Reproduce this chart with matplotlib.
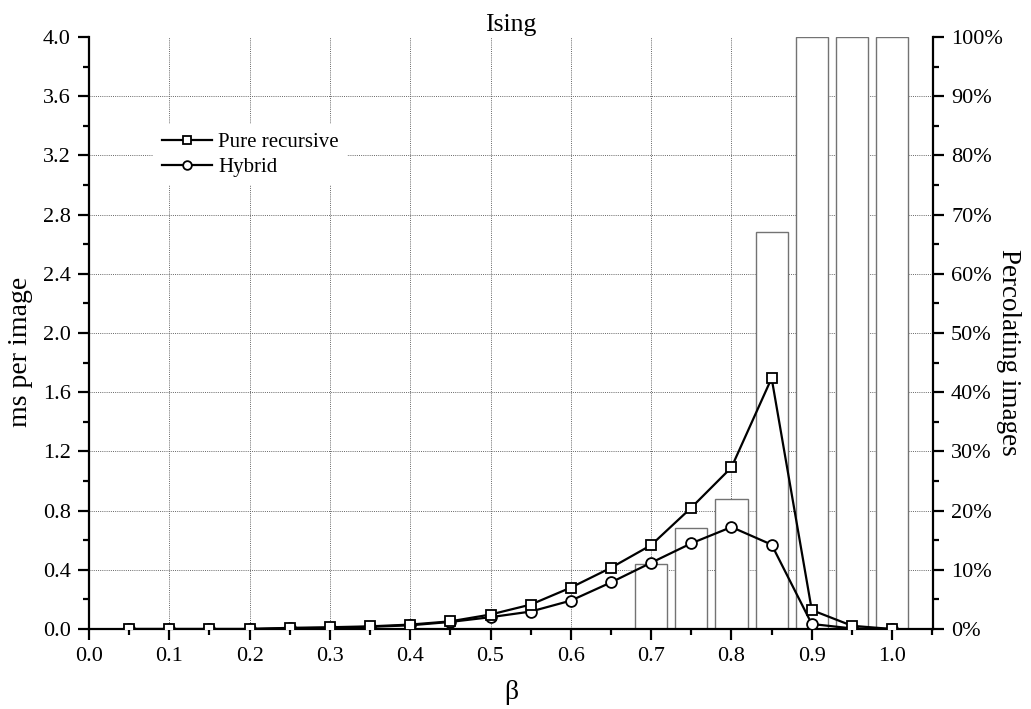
import matplotlib
matplotlib.use("Agg")
import matplotlib.pyplot as plt
from matplotlib.ticker import MultipleLocator, FuncFormatter

beta = [0.05, 0.10, 0.15, 0.20, 0.25, 0.30, 0.35, 0.40, 0.45, 0.50,
        0.55, 0.60, 0.65, 0.70, 0.75, 0.80, 0.85, 0.90, 0.95, 1.00]
pure_recursive = [0.0, 0.0, 0.0, 0.0, 0.008, 0.012, 0.018, 0.030, 0.052, 0.098,
                  0.165, 0.280, 0.414, 0.567, 0.820, 1.092, 1.695, 0.128, 0.022, 0.0]
hybrid = [0.0, 0.0, 0.0, 0.0, 0.005, 0.008, 0.015, 0.025, 0.048, 0.080,
          0.118, 0.192, 0.315, 0.448, 0.579, 0.689, 0.570, 0.034, 0.004, 0.0]

bar_beta = [0.70, 0.75, 0.80, 0.85, 0.90, 0.95, 1.00]
percolating = [11.0, 17.0, 22.0, 67.0, 100.0, 100.0, 100.0]

plt.rcParams['font.family'] = ['Liberation Serif', 'DejaVu Serif']

fig = plt.figure(figsize=(10.31, 7.09), dpi=100)
ax = fig.add_axes([0.0863, 0.1128, 0.8187, 0.835])
ax2 = ax.twinx()
ax.set_zorder(2)
ax2.set_zorder(1)
ax.patch.set_visible(False)
ax2.patch.set_visible(True)
ax2.patch.set_facecolor('white')

# bars on right axis
ax2.bar(bar_beta, percolating, width=0.04, color='white', edgecolor='0.45',
        linewidth=1.0, zorder=3)
ax2.set_ylim(0, 100)
ax2.yaxis.set_major_locator(MultipleLocator(10))
ax2.yaxis.set_minor_locator(MultipleLocator(5))
ax2.yaxis.set_major_formatter(FuncFormatter(lambda v, p: f"{int(round(v))}%"))
ax2.xaxis.set_visible(True)
ax2.grid(True, which='major', axis='both', linestyle=(0, (1, 1.2)), color='0.4',
         linewidth=0.7, zorder=0)
ax2.set_axisbelow(True)
ax2.tick_params(axis='x', which='both', bottom=False, top=False,
                labelbottom=False, labeltop=False)

# lines on left axis
ax.plot(beta, pure_recursive, color='black', linewidth=1.6, marker='s',
        markersize=6.8, markerfacecolor='white', markeredgecolor='black',
        markeredgewidth=1.3, label='Pure recursive', zorder=4)
ax.plot(beta, hybrid, color='black', linewidth=1.6, marker='o',
        markersize=7.8, markerfacecolor='white', markeredgecolor='black',
        markeredgewidth=1.3, label='Hybrid', zorder=3)

ax.set_xlim(0, 1.051)
ax.set_ylim(0, 4.0)
ax.xaxis.set_major_locator(MultipleLocator(0.1))
ax.xaxis.set_minor_locator(MultipleLocator(0.05))
ax.yaxis.set_major_locator(MultipleLocator(0.4))
ax.yaxis.set_minor_locator(MultipleLocator(0.2))
ax.xaxis.set_major_formatter(FuncFormatter(lambda v, p: f"{v:.1f}"))
ax.yaxis.set_major_formatter(FuncFormatter(lambda v, p: f"{v:.1f}"))

for a in (ax, ax2):
    a.spines['top'].set_visible(False)
    for s in a.spines.values():
        s.set_linewidth(1.6)
ax.spines['right'].set_visible(False)
ax2.spines['left'].set_visible(False)
ax2.spines['bottom'].set_visible(False)

ax.tick_params(axis='both', which='major', direction='out', length=8, width=1.6,
               labelsize=16, pad=5)
ax.tick_params(axis='both', which='minor', direction='out', length=4.5, width=1.6)
ax2.tick_params(axis='y', which='major', direction='out', length=8, width=1.6,
                labelsize=16, pad=5)
ax2.tick_params(axis='y', which='minor', direction='out', length=4.5, width=1.6)

ax.set_xlabel('β', fontsize=20, labelpad=10)
ax.set_ylabel('ms per image', fontsize=20)
ax.yaxis.set_label_coords(-0.066, 0.468)
ax2.set_ylabel('Percolating images', fontsize=19.5, rotation=270)
ax2.yaxis.set_label_coords(1.104, 0.468)
ax.set_title('Ising', fontsize=18.5, pad=4.6)

leg = ax.legend(loc='upper left', bbox_to_anchor=(0.064, 0.87), fontsize=15,
                frameon=True, fancybox=False, framealpha=1, facecolor='white',
                edgecolor='none', handlelength=2.4, handletextpad=0.3,
                borderpad=0.4, labelspacing=0.25, markerscale=0.8)

# no grid line along the (absent) top edge
fig.canvas.draw()
for t in ax2.yaxis.get_major_ticks():
    if abs(t.get_loc() - 100) < 1e-6:
        t.gridline.set_visible(False)

fig.savefig('out.png', dpi=100)
